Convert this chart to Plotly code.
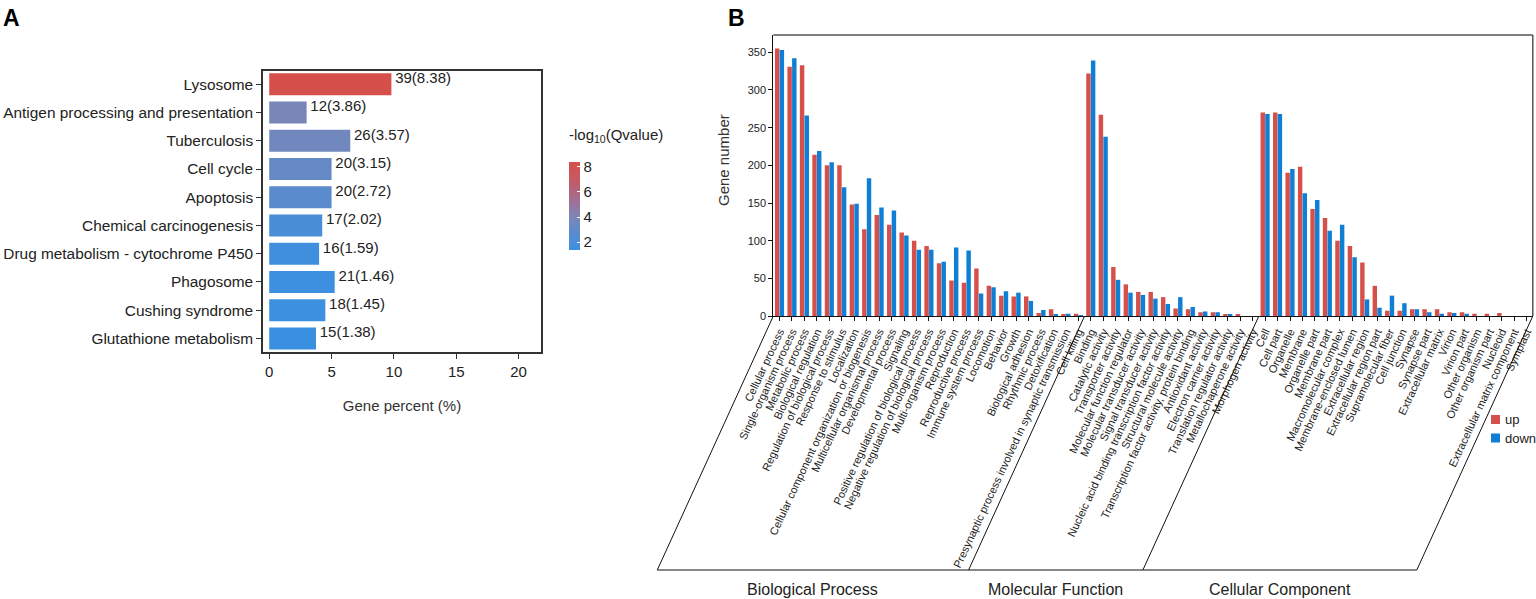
import plotly.graph_objects as go

W, H = 1536, 599
FONT = "Liberation Sans, Arial, sans-serif"

# ---------------- Panel A data (KEGG enrichment) ----------------
pathways = ["Lysosome", "Antigen processing and presentation", "Tuberculosis",
            "Cell cycle", "Apoptosis", "Chemical carcinogenesis",
            "Drug metabolism - cytochrome P450", "Phagosome",
            "Cushing syndrome", "Glutathione metabolism"]
gene_counts = [39, 12, 26, 20, 20, 17, 16, 21, 18, 15]
neg_log_q = [8.38, 3.86, 3.57, 3.15, 2.72, 2.02, 1.59, 1.46, 1.45, 1.38]
gene_percent = [9.8, 3.0, 6.5, 5.0, 5.0, 4.25, 4.0, 5.25, 4.5, 3.75]
cbar_ticks = [2, 4, 6, 8]
pct_ticks = [0, 5, 10, 15, 20]

# ---------------- Panel B data (GO classification) ----------------
bp_terms = ["Cellular process", "Single-organism process", "Metabolic process",
            "Biological regulation", "Regulation of biological process",
            "Response to stimulus", "Localization",
            "Cellular component organization or biogenesis",
            "Multicellular organismal process", "Developmental process", "Signaling",
            "Positive regulation of biological process",
            "Negative regulation of biological process", "Multi-organism process",
            "Reproduction", "Reproductive process", "Immune system process",
            "Locomotion", "Behavior", "Growth", "Biological adhesion",
            "Rhythmic process", "Detoxification",
            "Presynaptic process involved in synaptic transmission", "Cell killing"]
bp_up = [355, 331, 333, 214, 200, 200, 148, 115, 134, 121, 111, 100, 93, 70, 47, 44,
         63, 40, 27, 26, 26, 4, 9, 2, 3]
bp_down = [353, 342, 266, 219, 204, 171, 149, 183, 144, 140, 107, 88, 88, 72, 91, 87,
           30, 38, 33, 31, 20, 8, 2, 3, 1]

mf_terms = ["Binding", "Catalytic activity", "Transporter activity",
            "Molecular function regulator", "Molecular transducer activity",
            "Signal transducer activity",
            "Nucleic acid binding transcription factor activity",
            "Structural molecule activity",
            "Transcription factor activity, protein binding", "Antioxidant activity",
            "Electron carrier activity", "Translation regulator activity",
            "Metallochaperone activity", "Morphogen activity"]
mf_up = [322, 267, 65, 42, 32, 32, 25, 10, 9, 5, 5, 2, 2, 0]
mf_down = [339, 238, 48, 31, 28, 23, 16, 25, 12, 6, 5, 2, 0, 0]

cc_terms = ["Cell", "Cell part", "Organelle", "Membrane", "Organelle part",
            "Membrane part", "Macromolecular complex", "Membrane-enclosed lumen",
            "Extracellular region", "Extracellular region part",
            "Supramolecular fiber", "Cell junction", "Synapse", "Synapse part",
            "Extracellular matrix", "Virion", "Virion part", "Other organism",
            "Other organism part", "Nucleoid", "Extracellular matrix component",
            "Symplast"]
cc_up = [270, 270, 190, 198, 142, 130, 100, 93, 71, 40, 7, 7, 9, 9, 9, 5, 5, 3, 3, 4, 0, 0]
cc_down = [268, 268, 195, 163, 154, 113, 121, 78, 22, 11, 27, 17, 9, 5, 3, 4, 3, 0, 0, 0, 0, 0]

group_names = ["Biological Process", "Molecular Function", "Cellular Component"]
gene_ticks = [0, 50, 100, 150, 200, 250, 300, 350]

RED = "#D5504A"
BLUE = "#0F7FD6"
# gradient of panel A (sampled from the reference colour bar)
colorscale = [[0.0, "#3A90E0"], [0.1, "#4B8ED7"], [0.25, "#6389C5"], [0.35, "#7888B9"],
              [0.5, "#9676A0"], [0.66, "#B0657F"], [0.8, "#C55A63"], [1.0, "#D6504B"]]

# ---------------- layout geometry (pixels) ----------------
AX0, AX1, AY_TOP, AY_BOT = 263, 541, 71, 352
BX0, BX1, BY_TOP, BY_BOT = 773.3, 1532.8, 35, 316
SLANT_DX, SLANT_BOT = 116, 570


def px(x):
    return x / W


def py(y):
    return 1 - y / H


fig = go.Figure()

# ---------------- Panel A ----------------
ypos = list(range(len(pathways)))
fig.add_trace(go.Bar(
    x=gene_percent, y=ypos, orientation="h", width=0.78,
    marker=dict(color=neg_log_q, colorscale=colorscale,
                cmin=min(neg_log_q), cmax=max(neg_log_q), line=dict(width=0),
                colorbar=dict(
                    x=px(569), xanchor="left", y=py(162), yanchor="top",
                    len=88, lenmode="pixels", thickness=11, thicknessmode="pixels",
                    ypad=0, xpad=0, outlinewidth=0, tickvals=cbar_ticks,
                    ticks="inside", ticklen=3, tickcolor="white", tickwidth=1.2,
                    tickfont=dict(family=FONT, size=15, color="#222"))),
    xaxis="x", yaxis="y", showlegend=False, hoverinfo="x+y"))

fig.add_trace(go.Scatter(
    x=[v + 0.3 for v in gene_percent], y=[p - 0.17 for p in ypos], mode="text",
    text=["%d(%.2f)" % (c, q) for c, q in zip(gene_counts, neg_log_q)],
    textposition="middle right", textfont=dict(family=FONT, size=15, color="#222"),
    cliponaxis=False, xaxis="x", yaxis="y", showlegend=False, hoverinfo="skip"))

# ---------------- Panel B ----------------
terms = bp_terms + mf_terms + cc_terms
up_vals = bp_up + mf_up + cc_up
down_vals = bp_down + mf_down + cc_down
xs = list(range(len(terms)))

fig.add_trace(go.Bar(x=xs, y=up_vals, name="up", marker=dict(color=RED, line=dict(width=0)),
                     xaxis="x2", yaxis="y2", showlegend=False))
fig.add_trace(go.Bar(x=xs, y=down_vals, name="down", marker=dict(color=BLUE, line=dict(width=0)),
                     xaxis="x2", yaxis="y2", showlegend=False))

XR0, XR1 = -0.5, len(terms) - 0.5


def bx(v):
    return BX0 + (v - XR0) / (XR1 - XR0) * (BX1 - BX0)


shapes = []
# frame of panel B (top and right)
shapes.append(dict(type="line", xref="paper", yref="paper", x0=px(BX0), x1=px(BX1),
                   y0=py(BY_TOP), y1=py(BY_TOP), line=dict(color="#555", width=1.5)))
shapes.append(dict(type="line", xref="paper", yref="paper", x0=px(BX1), x1=px(BX1),
                   y0=py(BY_TOP), y1=py(BY_BOT), line=dict(color="#555", width=1.5)))

# group separators (slanted) and bottom line
sizes = [len(bp_terms), len(mf_terms), len(cc_terms)]
bounds = [-0.5]
for s in sizes:
    bounds.append(bounds[-1] + s)
for b in bounds:
    xt = bx(b)
    shapes.append(dict(type="line", xref="paper", yref="paper",
                       x0=px(xt), y0=py(BY_BOT), x1=px(xt - SLANT_DX), y1=py(SLANT_BOT),
                       line=dict(color="#111", width=1)))
shapes.append(dict(type="line", xref="paper", yref="paper",
                   x0=px(bx(bounds[0]) - SLANT_DX), x1=px(bx(bounds[-1]) - SLANT_DX),
                   y0=py(SLANT_BOT), y1=py(SLANT_BOT), line=dict(color="#111", width=1)))

annotations = []
for i, g in enumerate(group_names):
    xm = (bx(bounds[i]) + bx(bounds[i + 1])) / 2 - SLANT_DX
    annotations.append(dict(text=g, xref="paper", yref="paper", x=px(xm), y=py(589),
                            showarrow=False, xanchor="center", yanchor="middle",
                            font=dict(family=FONT, size=16, color="#222")))

# manual legend
for name, col, yc in [("up", RED, 419.5), ("down", BLUE, 438)]:
    shapes.append(dict(type="rect", xref="paper", yref="paper",
                       x0=px(1491), x1=px(1500), y0=py(yc - 4.5), y1=py(yc + 4.5),
                       fillcolor=col, line=dict(width=0)))
    annotations.append(dict(text=name, xref="paper", yref="paper", x=px(1503), y=py(yc),
                            showarrow=False, xanchor="left", yanchor="middle",
                            font=dict(family=FONT, size=13, color="#222")))

# colour bar title
annotations.append(dict(text="-log<sub>10</sub>(Qvalue)", xref="paper", yref="paper",
                        x=px(567), y=py(135), showarrow=False, xanchor="left",
                        yanchor="middle", font=dict(family=FONT, size=15, color="#222")))
# y title panel B
annotations.append(dict(text="Gene number", xref="paper", yref="paper", x=px(723), y=py(160),
                        textangle=-90, showarrow=False, xanchor="center", yanchor="middle",
                        font=dict(family=FONT, size=15, color="#333")))
# panel letters
annotations.append(dict(text="<b>A</b>", xref="paper", yref="paper", x=px(1), y=py(18),
                        showarrow=False, xanchor="left", yanchor="middle",
                        font=dict(family=FONT, size=23, color="#000")))
annotations.append(dict(text="<b>B</b>", xref="paper", yref="paper", x=px(726), y=py(18),
                        showarrow=False, xanchor="left", yanchor="middle",
                        font=dict(family=FONT, size=23, color="#000")))

fig.update_layout(
    template="none",
    width=W, height=H, margin=dict(l=0, r=0, t=0, b=0, pad=0, autoexpand=False),
    paper_bgcolor="white", plot_bgcolor="white",
    barmode="group", bargap=0.25, bargroupgap=0.05,
    font=dict(family=FONT, color="#222"),
    shapes=shapes, annotations=annotations, showlegend=False,
    xaxis=dict(domain=[px(AX0), px(AX1)], anchor="y", range=[-0.5, 21.8], automargin=False,
               tickvals=pct_ticks, ticks="outside", ticklen=5, tickcolor="#333",
               showline=True, mirror=True, linecolor="#333", linewidth=1.6,
               showgrid=False, zeroline=False,
               tickfont=dict(family=FONT, size=15, color="#222"),
               title=dict(text="Gene percent (%)", standoff=22,
                          font=dict(family=FONT, size=15, color="#333"))),
    yaxis=dict(domain=[py(AY_BOT), py(AY_TOP)], anchor="x", range=[9.48, -0.47],
               automargin=False,
               tickvals=ypos, ticktext=pathways, ticks="outside", ticklen=5,
               tickcolor="#333", showline=True, mirror=True, linecolor="#333",
               linewidth=1.6, showgrid=False, zeroline=False,
               tickfont=dict(family=FONT, size=15.4, color="#222")),
    xaxis2=dict(domain=[px(BX0), px(BX1)], anchor="y2", range=[XR0, XR1], automargin=False,
                tickmode="array", tickvals=xs, ticktext=terms, tickangle=-65,
                ticks="outside", ticklen=4, tickcolor="#111", showline=True,
                linecolor="#111", linewidth=1.2, showgrid=False, zeroline=False,
                tickfont=dict(family=FONT, size=11, color="#222")),
    yaxis2=dict(domain=[py(BY_BOT), py(BY_TOP)], anchor="x2", range=[0, 373], automargin=False,
                tickvals=gene_ticks, ticks="outside", ticklen=4, tickcolor="#111",
                showline=True, linecolor="#111", linewidth=1.2, showgrid=False,
                zeroline=False, tickfont=dict(family=FONT, size=11, color="#222")),
)

fig.write_html("out.html", config={"displayModeBar": False},
               post_script="document.body.style.margin='0';document.body.style.overflow='hidden';")
